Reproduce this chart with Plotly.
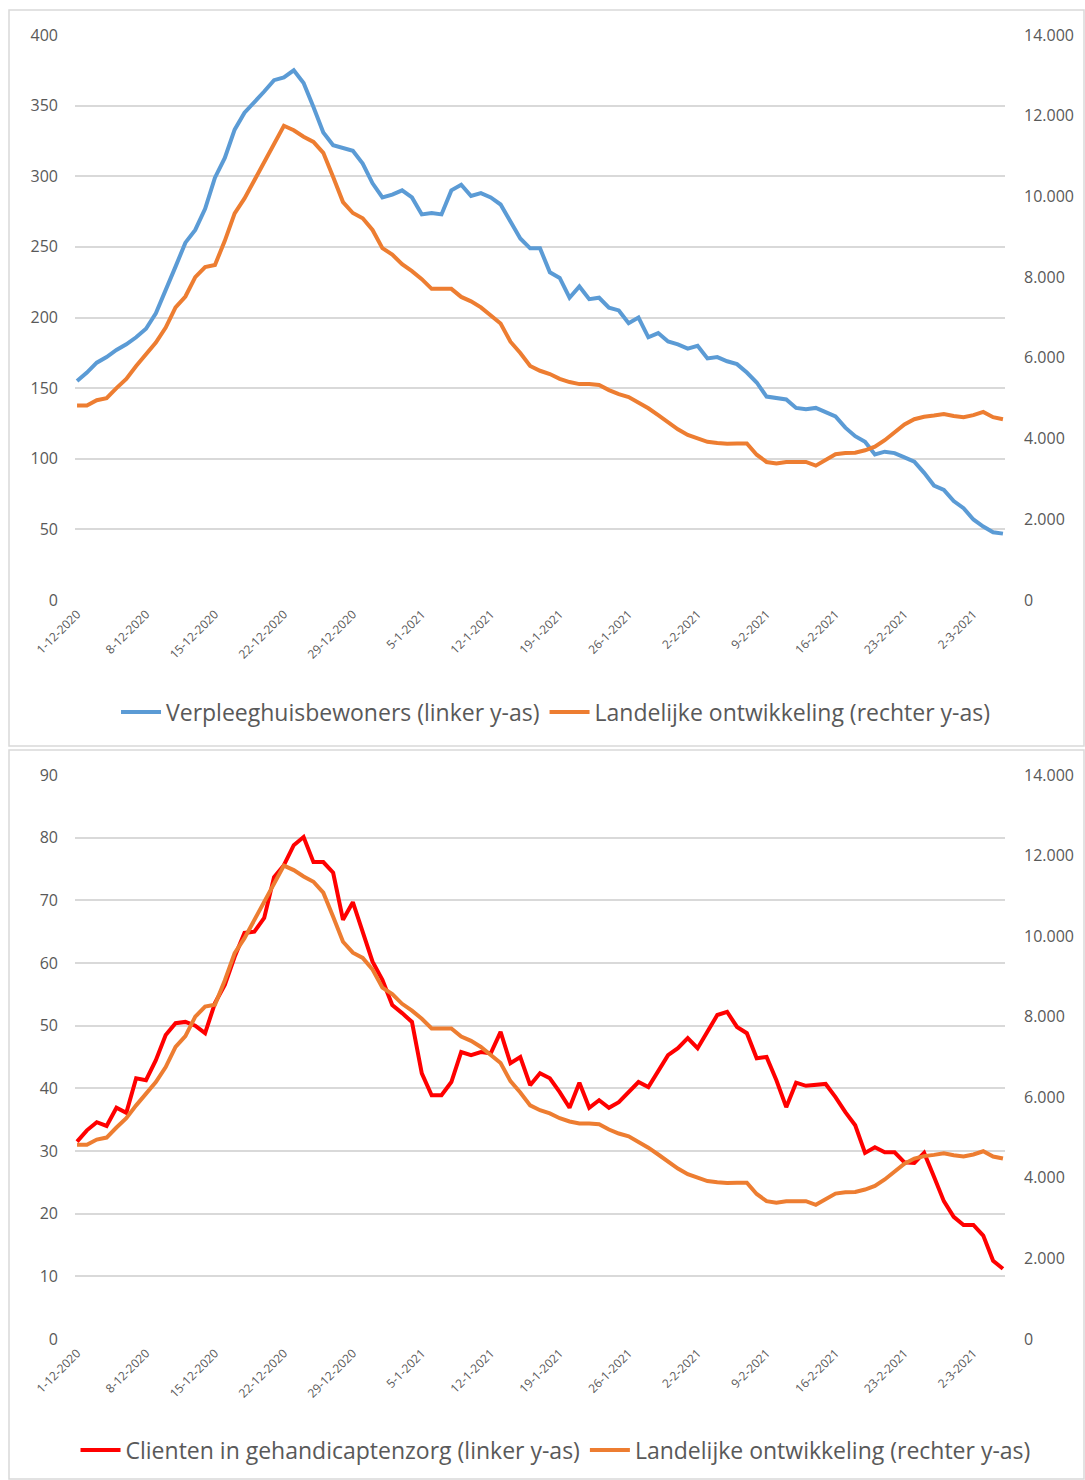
import pandas as pd
import plotly.graph_objects as go

# ---------------- data ----------------
start_date = "2020-12-01"
n_days = 95
dates = pd.date_range(start_date, periods=n_days, freq="D")

verpleeghuis = [155, 161, 168, 172, 177, 181, 186, 192, 203, 219,
                236, 253, 262, 277, 299, 313, 333, 345, 352, 360,
                368, 370, 375, 366, 349, 331, 322, 320, 318, 309,
                295, 285, 287, 290, 285, 273, 274, 273, 290, 294,
                286, 288, 285, 280, 268, 256, 249, 249, 232, 228,
                214, 222, 213, 214, 207, 205, 196, 200, 186, 189,
                183, 181, 178, 180, 171, 172, 169, 167, 161, 154,
                144, 143, 142, 136, 135, 136, 133, 130, 122, 116,
                112, 103, 105, 104, 101, 98, 90, 81, 78, 70,
                65, 57, 52, 48, 47]

gehandicapt = [31.5, 33.3, 34.6, 34.0, 36.9, 36.1, 41.6, 41.3, 44.5, 48.5,
               50.4, 50.6, 50.0, 48.8, 53.6, 56.5, 61.0, 64.8, 65.0, 67.2,
               73.7, 75.6, 78.8, 80.1, 76.1, 76.1, 74.4, 66.9, 69.7, 65.0,
               60.2, 57.3, 53.3, 52.0, 50.6, 42.4, 38.9, 38.9, 41.0, 45.8,
               45.3, 45.8, 45.6, 49.0, 44.0, 45.0, 40.5, 42.4, 41.6, 39.4,
               36.9, 40.9, 36.9, 38.1, 36.9, 37.8, 39.3, 41.0, 40.2, 42.9,
               45.3, 46.4, 48.0, 46.4, 49.0, 51.7, 52.2, 49.8, 48.8, 44.8,
               45.0, 41.3, 37.0, 40.9, 40.4, 40.5, 40.7, 38.6, 36.2, 34.1,
               29.7, 30.6, 29.8, 29.8, 28.2, 28.1, 29.7, 25.9, 22.0, 19.5,
               18.2, 18.2, 16.5, 12.5, 11.2]

landelijk = [4820, 4820, 4950, 5000, 5250, 5480, 5800, 6100, 6380, 6750,
             7250, 7520, 8000, 8250, 8300, 8900, 9580, 9950, 10400, 10900,
             11300, 11750, 11640, 11480, 11350, 11080, 10480, 9860, 9590, 9460,
             9170, 8720, 8560, 8320, 8150, 7950, 7710, 7710, 7710, 7510,
             7400, 7250, 7050, 6850, 6400, 6120, 5800, 5680, 5600, 5480,
             5400, 5350, 5350, 5330, 5200, 5100, 5030, 4900, 4750, 4580,
             4400, 4230, 4090, 4000, 3920, 3890, 3870, 3880, 3880, 3600,
             3420, 3380, 3420, 3420, 3420, 3330, 3460, 3610, 3640, 3650,
             3710, 3800, 3960, 4160, 4350, 4480, 4540, 4570, 4610, 4560,
             4530, 4580, 4660, 4530, 4480]

x_tick_dates = ["2020-12-01", "2020-12-08", "2020-12-15", "2020-12-22", "2020-12-29",
                "2021-01-05", "2021-01-12", "2021-01-19", "2021-01-26", "2021-02-02",
                "2021-02-09", "2021-02-16", "2021-02-23", "2021-03-02"]
x_tick_labels = ["1-12-2020", "8-12-2020", "15-12-2020", "22-12-2020", "29-12-2020",
                 "5-1-2021", "12-1-2021", "19-1-2021", "26-1-2021", "2-2-2021",
                 "9-2-2021", "16-2-2021", "23-2-2021", "2-3-2021"]

top_left_ticks = [0, 50, 100, 150, 200, 250, 300, 350, 400]
bottom_left_ticks = [0, 10, 20, 30, 40, 50, 60, 70, 80, 90]
right_ticks = [0, 2000, 4000, 6000, 8000, 10000, 12000, 14000]
right_tick_labels = ["0", "2.000", "4.000", "6.000", "8.000", "10.000", "12.000", "14.000"]

name_blue = "Verpleeghuisbewoners (linker y-as)"
name_red = "Clienten in gehandicaptenzorg (linker y-as)"
name_orange = "Landelijke ontwikkeling (rechter y-as)"

# ---------------- figure ----------------
W, H = 1085, 1480
BLUE = "#5b9bd5"
ORANGE = "#ed7d31"
RED = "#ff0000"
GRID = "#d9d9d9"
TXT = "#595959"
FONT = "Open Sans"
LW = 4


def px_x(v):
    return v / W


def px_y(v):
    return 1 - v / H


fig = go.Figure()
fig.add_trace(go.Scatter(x=dates, y=verpleeghuis, name=name_blue, mode="lines",
                         line=dict(color=BLUE, width=LW), xaxis="x", yaxis="y",
                         legend="legend"))
fig.add_trace(go.Scatter(x=dates, y=landelijk, name=name_orange, mode="lines",
                         line=dict(color=ORANGE, width=LW), xaxis="x", yaxis="y2",
                         legend="legend"))
fig.add_trace(go.Scatter(x=dates, y=gehandicapt, name=name_red, mode="lines",
                         line=dict(color=RED, width=LW), xaxis="x2", yaxis="y3",
                         legend="legend2"))
fig.add_trace(go.Scatter(x=dates, y=landelijk, name=name_orange, mode="lines",
                         line=dict(color=ORANGE, width=LW), xaxis="x2", yaxis="y4",
                         legend="legend2"))

xdom = [px_x(75), px_x(1005)]
top_dom = [px_y(600), px_y(35)]
bot_dom = [px_y(1339), px_y(775)]
xrange = ["2020-11-30 19:00", "2021-03-05 05:00"]

xcommon = dict(domain=xdom, range=xrange, type="date", tickvals=x_tick_dates,
               ticktext=x_tick_labels, tickangle=-45, showgrid=False, zeroline=False,
               showline=False, ticks="", tickfont=dict(family=FONT, size=12, color=TXT),
               fixedrange=True, automargin=False, ticklabelstandoff=4)
yleft = dict(showgrid=True, gridcolor=GRID, gridwidth=1.5, zeroline=False, showline=False,
             ticks="", tickfont=dict(family=FONT, size=16, color=TXT), ticklabelstandoff=16,
             automargin=False)
yright = dict(showgrid=False, zeroline=False, showline=False, ticks="", side="right",
              tickvals=right_ticks, ticktext=right_tick_labels, range=[0, 14000],
              tickfont=dict(family=FONT, size=16, color=TXT), ticklabelstandoff=18,
              automargin=False)

legend_font = dict(family=FONT, size=23, color=TXT)

fig.update_layout(
    width=W, height=H,
    margin=dict(l=0, r=0, t=0, b=0, pad=0, autoexpand=False),
    paper_bgcolor="white", plot_bgcolor="white",
    font=dict(family=FONT, color=TXT),
    xaxis=dict(anchor="y", **xcommon),
    xaxis2=dict(anchor="y3", **xcommon),
    yaxis=dict(domain=top_dom, anchor="x", range=[0, 400], tickvals=top_left_ticks, **yleft),
    yaxis2=dict(domain=top_dom, anchor="x", overlaying="y", **yright),
    yaxis3=dict(domain=bot_dom, anchor="x2", range=[0, 90], tickvals=bottom_left_ticks, **yleft),
    yaxis4=dict(domain=bot_dom, anchor="x2", overlaying="y3", **yright),
    legend=dict(orientation="h", x=0.512, xanchor="center", y=px_y(712), yanchor="middle",
                font=legend_font, itemwidth=40,
                bgcolor="rgba(0,0,0,0)", traceorder="normal"),
    legend2=dict(orientation="h", x=0.512, xanchor="center", y=px_y(1450), yanchor="middle",
                 font=legend_font, itemwidth=40,
                 bgcolor="rgba(0,0,0,0)", traceorder="normal"),
    showlegend=True,
    shapes=[
        dict(type="rect", xref="paper", yref="paper", x0=px_x(9), x1=px_x(1084),
             y0=px_y(746), y1=px_y(10), line=dict(color=GRID, width=1.5), layer="below"),
        dict(type="rect", xref="paper", yref="paper", x0=px_x(9), x1=px_x(1084),
             y0=px_y(1479), y1=px_y(750), line=dict(color=GRID, width=1.5), layer="below"),
    ],
)

fig.write_html("out.html", config={"displayModeBar": False},
               post_script="document.body.style.margin='0px';")
